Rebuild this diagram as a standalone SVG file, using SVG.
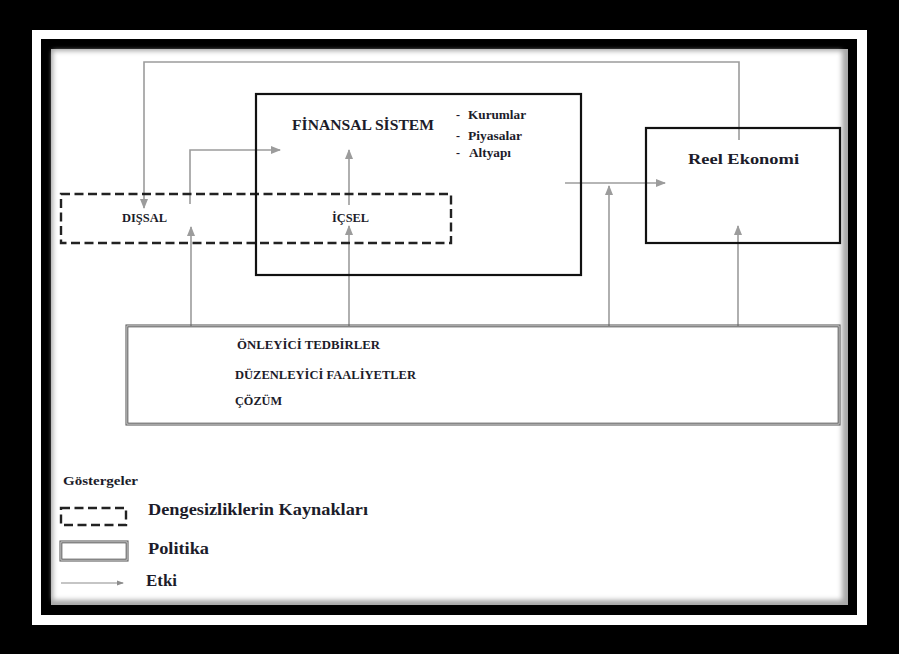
<svg xmlns="http://www.w3.org/2000/svg" width="899" height="654" viewBox="0 0 899 654">
  <style>
    .lbl { font-family: "Liberation Serif", "Times New Roman", serif; font-weight: bold; fill: #1c1c2a; }
    .box { fill: none; stroke: #111; stroke-width: 2.2; }
    .dash { fill: none; stroke: #222; stroke-width: 2.4; stroke-dasharray: 9 4.5; }
    .pol { fill: none; stroke: #5e5e5e; stroke-width: 1.1; }
    .fx { fill: none; stroke: #9c9c9c; stroke-width: 1.6; }
  </style>
  <defs>
    <marker id="ah" viewBox="0 0 10 8" refX="9" refY="4" markerWidth="10" markerHeight="8" markerUnits="userSpaceOnUse" orient="auto">
      <path d="M0,0 L10,4 L0,8 z" fill="#9c9c9c"/>
    </marker>
    <filter id="soft" x="-5%" y="-5%" width="110%" height="110%">
      <feGaussianBlur stdDeviation="2.5"/>
    </filter>
  </defs>

  <!-- frame -->
  <rect x="0" y="0" width="899" height="654" fill="#000"/>
  <rect x="32" y="30" width="835" height="595" fill="#fff"/>
  <rect x="41" y="39" width="816" height="576" fill="#000"/>
  <rect x="51" y="49" width="797" height="556" fill="#a8a8a8"/>
  <rect x="53" y="51" width="789" height="549" fill="#fff" filter="url(#soft)"/>

  <!-- connectors -->
  <g id="connectors">
    <polyline class="fx" points="739,140 739,62 144,62 144,208" marker-end="url(#ah)"/>
    <line class="fx" x1="191" y1="326" x2="191" y2="227" marker-end="url(#ah)"/>
    <polyline class="fx" points="190,204 190,150 280,150" marker-end="url(#ah)"/>
    <line class="fx" x1="349" y1="326" x2="349" y2="226" marker-end="url(#ah)"/>
    <line class="fx" x1="349" y1="205" x2="349" y2="150" marker-end="url(#ah)"/>
    <line class="fx" x1="565" y1="183" x2="665" y2="183" marker-end="url(#ah)"/>
    <line class="fx" x1="609" y1="326" x2="609" y2="186" marker-end="url(#ah)"/>
    <line class="fx" x1="738" y1="326" x2="738" y2="226" marker-end="url(#ah)"/>
  </g>

  <!-- sources of imbalance -->
  <g id="sources">
    <rect class="dash" x="61" y="194" width="390" height="49"/>
    <text class="lbl" x="122" y="222" font-size="12.5" textLength="45" lengthAdjust="spacingAndGlyphs">DIŞSAL</text>
    <text class="lbl" x="332" y="222" font-size="12.5" textLength="37" lengthAdjust="spacingAndGlyphs">İÇSEL</text>
  </g>

  <!-- financial system -->
  <g id="finansal-sistem">
    <rect class="box" x="256" y="94" width="325" height="181"/>
    <text class="lbl" x="292" y="130" font-size="15.5" textLength="142" lengthAdjust="spacingAndGlyphs">FİNANSAL SİSTEM</text>
    <text class="lbl" x="456" y="119" font-size="12">-</text>
    <text class="lbl" x="468" y="119" font-size="12" textLength="58" lengthAdjust="spacingAndGlyphs">Kurumlar</text>
    <text class="lbl" x="456" y="140" font-size="12">-</text>
    <text class="lbl" x="468" y="140" font-size="12" textLength="54" lengthAdjust="spacingAndGlyphs">Piyasalar</text>
    <text class="lbl" x="456" y="157" font-size="12">-</text>
    <text class="lbl" x="469" y="157" font-size="12" textLength="42" lengthAdjust="spacingAndGlyphs">Altyapı</text>
  </g>

  <!-- real economy -->
  <g id="reel-ekonomi">
    <rect class="box" x="646" y="128" width="194" height="115"/>
    <text class="lbl" x="688" y="164" font-size="15" textLength="111" lengthAdjust="spacingAndGlyphs">Reel  Ekonomi</text>
  </g>

  <!-- policy -->
  <g id="politika">
    <rect class="pol" x="126" y="325" width="714" height="100"/>
    <rect class="pol" x="127.8" y="326.8" width="710.4" height="96.4"/>
    <text class="lbl" x="237" y="349" font-size="12.5" textLength="143" lengthAdjust="spacingAndGlyphs">ÖNLEYİCİ TEDBİRLER</text>
    <text class="lbl" x="235" y="379" font-size="12.5" textLength="181" lengthAdjust="spacingAndGlyphs">DÜZENLEYİCİ FAALİYETLER</text>
    <text class="lbl" x="235" y="405" font-size="12.5" textLength="47" lengthAdjust="spacingAndGlyphs">ÇÖZÜM</text>
  </g>

  <!-- legend -->
  <g id="legend">
    <text class="lbl" x="63" y="485" font-size="12" fill="#333" textLength="75" lengthAdjust="spacingAndGlyphs">Göstergeler</text>
    <rect class="dash" x="61" y="508" width="65" height="17" stroke-width="2" stroke-dasharray="8 4"/>
    <text class="lbl" x="148" y="515" font-size="16" textLength="220" lengthAdjust="spacingAndGlyphs">Dengesizliklerin Kaynakları</text>
    <rect class="pol" x="60" y="541" width="68" height="20"/>
    <rect class="pol" x="61.8" y="542.8" width="64.4" height="16.4"/>
    <text class="lbl" x="148" y="554" font-size="16" textLength="61" lengthAdjust="spacingAndGlyphs">Politika</text>
    <line x1="61" y1="583" x2="123" y2="583" stroke="#8c8c8c" stroke-width="1.2"/>
    <path d="M117,580.5 L124,583 L117,585.5 z" fill="#8c8c8c"/>
    <text class="lbl" x="146" y="586" font-size="16" textLength="31" lengthAdjust="spacingAndGlyphs">Etki</text>
  </g>
</svg>
